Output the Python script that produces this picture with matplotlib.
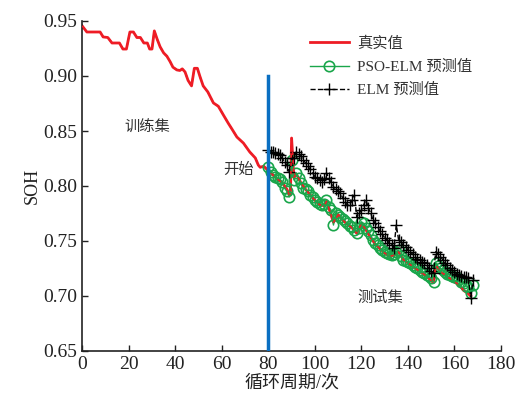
import matplotlib
matplotlib.use("Agg")
import matplotlib.pyplot as plt

plt.rcParams['font.family'] = ['Liberation Serif', 'Noto Sans CJK SC']

# true SOH (training + test)
true_x = [0, 2, 5, 7.7, 9, 11, 12.8, 16, 17.5, 19, 20.5, 22, 23.5, 25, 26.5, 28, 29, 30,
          31, 32.3, 33.5, 35, 36.4, 37.8, 39, 40.7, 42, 43, 44.2, 45.5, 47, 48.2, 49.5,
          50.7, 52, 54, 56.4, 58.5, 60.7, 62.8, 64.3, 66.5, 69.3, 72, 74.4, 75.7, 76.5,
          78, 80, 82, 84, 86, 88, 89, 89.5, 90, 91, 92, 94, 96, 98, 100, 102, 104, 105,
          106, 108, 110, 112, 114, 116, 118, 120, 122, 124, 126, 128, 130, 132, 134, 136,
          138, 140, 142, 144, 146, 148, 150, 151, 152, 154, 156, 158, 160, 162, 164, 166, 167]
true_y = [0.9455, 0.940, 0.940, 0.940, 0.9355, 0.935, 0.930, 0.930, 0.9245, 0.9245, 0.940,
          0.940, 0.935, 0.935, 0.930, 0.930, 0.9245, 0.9245, 0.941, 0.933, 0.9265, 0.921,
          0.918, 0.913, 0.908, 0.9055, 0.905, 0.9065, 0.9037, 0.896, 0.891, 0.907, 0.907,
          0.899, 0.891, 0.8855, 0.8755, 0.8725, 0.8645, 0.857, 0.852, 0.8445, 0.839, 0.831,
          0.8255, 0.819, 0.817, 0.818, 0.814, 0.810, 0.806, 0.803, 0.797, 0.792, 0.792,
          0.8436, 0.808, 0.811, 0.803, 0.797, 0.792, 0.787, 0.783, 0.782, 0.786, 0.780,
          0.767, 0.774, 0.769, 0.765, 0.762, 0.757, 0.766, 0.760, 0.753, 0.747, 0.743,
          0.739, 0.736, 0.737, 0.740, 0.733, 0.730, 0.727, 0.724, 0.721, 0.718, 0.714,
          0.712, 0.728, 0.722, 0.719, 0.716, 0.713, 0.710, 0.705, 0.702, 0.700]

test_x = list(range(80, 169))
pso_y = [0.8175, 0.813, 0.810, 0.808, 0.807, 0.806, 0.804, 0.798, 0.795, 0.790,
         0.8236, 0.8055, 0.812, 0.807, 0.803, 0.798, 0.797, 0.795, 0.792, 0.790,
         0.787, 0.785, 0.784, 0.7827, 0.784, 0.787, 0.781, 0.778, 0.7645, 0.7755,
         0.774, 0.772, 0.770, 0.768, 0.766, 0.764, 0.763, 0.760, 0.757, 0.762,
         0.7675, 0.766, 0.762, 0.759, 0.755, 0.751, 0.748, 0.746, 0.7435, 0.742,
         0.740, 0.739, 0.738, 0.737, 0.738, 0.740, 0.7418, 0.736, 0.7327, 0.732,
         0.731, 0.730, 0.728, 0.726, 0.725, 0.724, 0.722, 0.721, 0.719, 0.718,
         0.716, 0.713, 0.730, 0.727, 0.725, 0.7236, 0.722, 0.720, 0.719, 0.718,
         0.717, 0.7164, 0.715, 0.713, 0.712, 0.709, 0.7085, 0.7027, 0.710]
elm_y = [0.8327, 0.831, 0.831, 0.830, 0.829, 0.828, 0.825, 0.822, 0.819, 0.813,
         0.8255, 0.8255, 0.831, 0.829, 0.827, 0.8236, 0.821, 0.818, 0.815, 0.812,
         0.8085, 0.807, 0.8055, 0.804, 0.806, 0.812, 0.807, 0.8035, 0.7995, 0.797,
         0.795, 0.7936, 0.789, 0.785, 0.7827, 0.7827, 0.787, 0.7918, 0.772, 0.775,
         0.778, 0.783, 0.7873, 0.780, 0.7755, 0.769, 0.766, 0.763, 0.759, 0.756,
         0.753, 0.751, 0.748, 0.7464, 0.744, 0.7645, 0.751, 0.749, 0.746, 0.7448,
         0.742, 0.7403, 0.738, 0.7357, 0.734, 0.7327, 0.731, 0.730, 0.728, 0.7255,
         0.723, 0.721, 0.7403, 0.738, 0.7357, 0.733, 0.730, 0.728, 0.7255, 0.724,
         0.722, 0.720, 0.719, 0.718, 0.7176, 0.717, 0.7164, 0.698, 0.7145]

fig = plt.figure(figsize=(5.17, 4.0), dpi=100)
ax = fig.add_axes([0.159, 0.1225, 0.81, 0.825])

ax.plot(true_x, true_y, color='#ee1c25', lw=2, label='真实值', zorder=2)
ax.plot(test_x, pso_y, color='#1aa64b', lw=1, marker='o', ms=7.5, mfc='none',
        mew=1.2, label='PSO-ELM 预测值', zorder=3)
ax.plot(test_x, elm_y, color='black', lw=1, ls='--', marker='+', ms=8,
        mew=1, label='ELM 预测值', zorder=4)
# red true curve seen through the circles
ax.plot(true_x, true_y, color='#ee1c25', lw=1.2, ls=(0, (2, 3)), zorder=5)
ax.plot([80, 80], [0.65, 0.90], color='#0a6fc2', lw=2.5, zorder=6)

ax.text(28, 0.853, '训练集', fontsize=11, color='#333333', ha='center', va='center')
ax.text(67, 0.815, '开始', fontsize=11, color='#333333', ha='center', va='center')
ax.text(128, 0.698, '测试集', fontsize=11, color='#333333', ha='center', va='center')

ax.set_xlim(0, 180)
ax.set_ylim(0.65, 0.95)
ax.set_xticks(range(0, 181, 20))
ax.set_yticks([0.65, 0.70, 0.75, 0.80, 0.85, 0.90, 0.95])
ax.set_yticklabels(['0.65', '0.70', '0.75', '0.80', '0.85', '0.90', '0.95'])
ax.tick_params(direction='in', labelsize=14, colors='#222222', length=4, width=1)
ax.spines['top'].set_visible(False)
ax.spines['right'].set_visible(False)
for s in ['left', 'bottom']:
    ax.spines[s].set_color('#222222')
    ax.spines[s].set_linewidth(1.2)
ax.set_xlabel('循环周期/次', fontsize=13, color='#222222', labelpad=1)
ax.set_ylabel('SOH', fontsize=13, color='#222222', labelpad=2)

leg = ax.legend(loc='upper left', bbox_to_anchor=(0.51, 0.995), frameon=False,
                fontsize=11, handlelength=2.6, labelspacing=0.6, handletextpad=0.5)
for t in leg.get_texts():
    t.set_color('#333333')

fig.savefig('out.png', dpi=100)
